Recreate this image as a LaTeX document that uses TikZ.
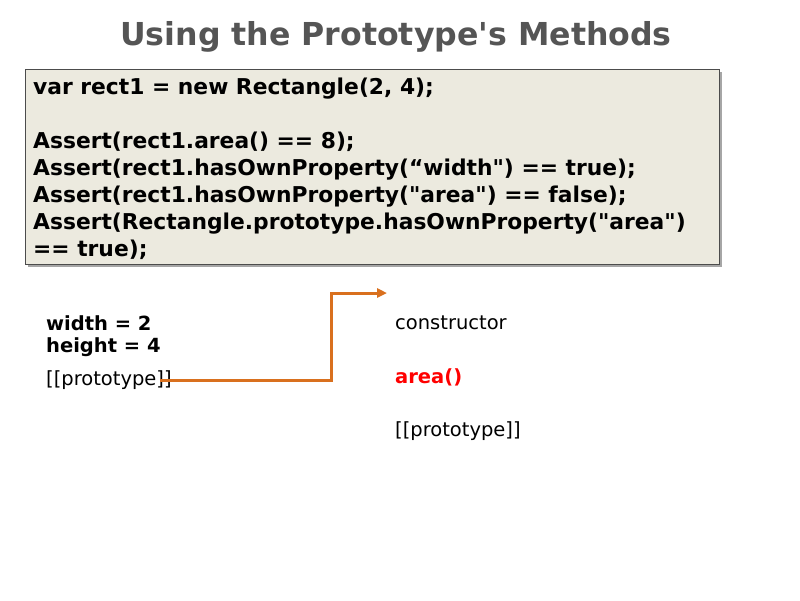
\documentclass[tikz,border=0pt]{standalone}
\usepackage{fontspec}
\setmainfont[Ligatures=TeXReset]{DejaVu Sans}
\usetikzlibrary{arrows.meta}
\definecolor{boxfill}{HTML}{ECEADF}
\definecolor{arr}{HTML}{D9701E}
\definecolor{ttl}{HTML}{555555}
\begin{document}
\begin{tikzpicture}[x=1pt,y=-1pt,
  txt/.style={anchor=west,inner sep=0pt,font=\fontsize{19.5}{22}\selectfont},
  btxt/.style={txt,font=\bfseries\fontsize{19.5}{22}\selectfont},
  code/.style={anchor=north west,inner sep=0pt,align=left,font=\bfseries\fontsize{21.8}{27}\selectfont}]
\useasboundingbox (0,0) rectangle (800,600);
\fill[white] (0,0) rectangle (800,600);
\node[font=\bfseries\fontsize{31.6}{36}\selectfont,text=ttl] (title) at (396,37) {Using the Prototype\textquotesingle s Methods};
\fill[black!35] (28,72) rectangle (722,267);
\draw[fill=boxfill,draw=black!70] (25,69) rectangle (719,264);
\node[code] (codetext) at (33,78) {var rect1 = new Rectangle(2, 4);\\[27pt]
Assert(rect1.area() == 8);\\
Assert(rect1.hasOwnProperty(“width") == true);\\
Assert(rect1.hasOwnProperty("area") == false);\\
Assert(Rectangle.prototype.hasOwnProperty("area")\\
== true);};
\node[btxt] (w) at (46,323) {width = 2};
\node[btxt] (h) at (46,347) {height = 4};
\node[txt] (p1) at (46,380) {[[prototype]]};
\node[txt] (c) at (395,323) {constructor};
\node[btxt,text=red] (a) at (395,377) {area()};
\node[txt] (p2) at (395,431) {[[prototype]]};
\coordinate (s) at (160,380);
\coordinate (e) at (387,293);
\draw[arr,line width=3pt,-{Triangle[length=10pt,width=9pt]}] (s) -- (331,380) -- (331,293) -- (e);
\end{tikzpicture}
\end{document}
